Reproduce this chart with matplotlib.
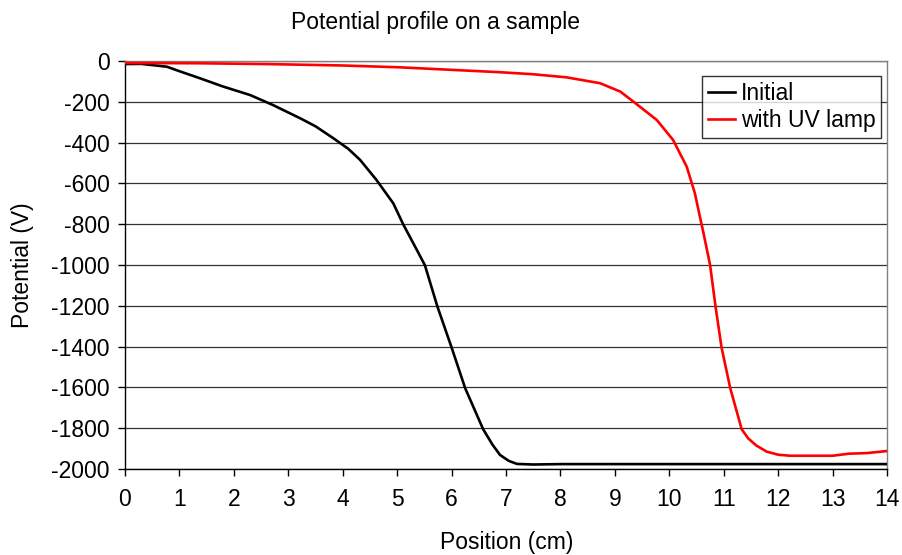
import matplotlib
matplotlib.use("Agg")
import matplotlib.pyplot as plt

plt.rcParams['font.family'] = ['Liberation Sans', 'DejaVu Sans']

# Data
initial_x = [0, 0.3, 0.77, 1.0, 1.38, 1.8, 2.3, 2.72, 3.22, 3.5, 3.83, 4.1, 4.32,
             4.62, 4.93, 5.11, 5.3, 5.51, 5.74, 6.0, 6.25, 6.58, 6.75, 6.89, 7.05,
             7.2, 7.5, 8.0, 9.0, 10.0, 11.0, 12.0, 13.0, 14.0]
initial_y = [-15, -14, -28, -50, -85, -125, -167, -216, -281, -320, -379, -430, -485,
             -583, -698, -800, -895, -1001, -1204, -1404, -1604, -1805, -1880, -1931, -1960,
             -1975, -1978, -1976, -1976, -1976, -1976, -1976, -1976, -1976]

uv_x = [0, 1.3, 2.6, 4.0, 5.05, 6.28, 6.89, 7.5, 8.11, 8.73, 9.1, 9.34, 9.77, 10.07,
        10.32, 10.47, 10.56, 10.63, 10.75, 10.85, 10.96, 11.12, 11.33, 11.45, 11.6,
        11.79, 12.0, 12.22, 13.0, 13.3, 13.63, 14.0]
uv_y = [-10, -11, -15, -22, -31, -47, -55, -65, -80, -109, -150, -199, -289, -387,
        -518, -648, -760, -845, -1001, -1204, -1404, -1604, -1805, -1850, -1885,
        -1915, -1930, -1935, -1935, -1925, -1922, -1912]

x_ticks = list(range(0, 15))
y_ticks = list(range(-2000, 1, 200))

W, H = 903, 555
fig = plt.figure(figsize=(W / 100, H / 100), dpi=100)
ax = fig.add_axes([125 / W, 1 - 469 / H, (887 - 125) / W, (469 - 61) / H])

for yt in y_ticks:
    ax.axhline(yt, color='#333333', lw=0.9, zorder=1)

ax.plot(initial_x, initial_y, color='black', lw=1.9, label='Initial', zorder=3)
ax.plot(uv_x, uv_y, color='#ff0000', lw=1.9, label='with UV lamp', zorder=3)

ax.set_xlim(0, 14)
ax.set_ylim(-2000, 0)
ax.set_xticks(x_ticks)
ax.set_yticks(y_ticks)
ax.set_xticklabels([str(v) for v in x_ticks])
ax.set_yticklabels([str(v) for v in y_ticks])
ax.tick_params(axis='both', direction='out', length=5, width=1, color='black',
               labelsize=16.5)
ax.tick_params(axis='x', pad=9)
ax.tick_params(axis='y', pad=6)

ax.spines['left'].set_color('black')
ax.spines['bottom'].set_color('black')
ax.spines['top'].set_color('#808080')
ax.spines['right'].set_color('#808080')
for s in ax.spines.values():
    s.set_linewidth(1)

fig.text(436 / W, 1 - 22 / H, 'Potential profile on a sample', ha='center', va='center',
         fontsize=16.5)
fig.text(507 / W, 1 - 543 / H, 'Position (cm)', ha='center', va='center', fontsize=16.5)
fig.text(22 / W, 1 - 265 / H, 'Potential (V)', ha='center', va='center', rotation=90,
         fontsize=16.5)

leg = ax.legend(loc='upper left', bbox_to_anchor=((702 - 125) / (887 - 125), (469 - 76) / (469 - 61)),
                fontsize=16.5, frameon=True, fancybox=False, edgecolor='black',
                borderpad=0.25, handlelength=1.2, handletextpad=0.25, labelspacing=0.2,
                borderaxespad=0)
leg.get_frame().set_linewidth(1)

fig.savefig('out.png', dpi=100)
